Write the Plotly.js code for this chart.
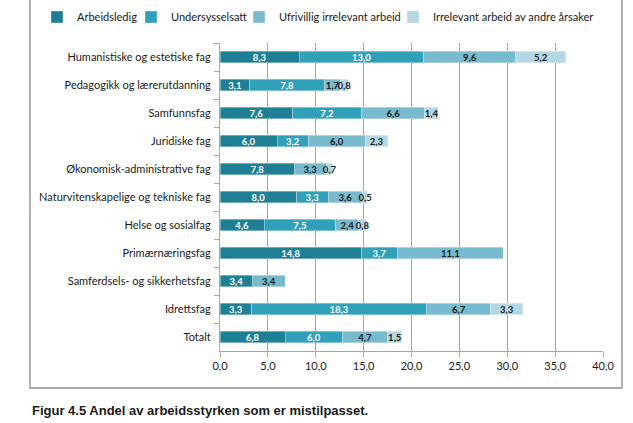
<!DOCTYPE html>
<html>
<head>
<meta charset="utf-8">
<script src="https://cdn.plot.ly/plotly-3.0.1.min.js"></script>
<style>html,body{margin:0;padding:0;background:#fff;}#chart{width:633px;height:423px;}</style>
</head>
<body>
<div id="chart"></div>
<script>
const categories = [
  "Humanistiske og estetiske fag",
  "Pedagogikk og lærerutdanning",
  "Samfunnsfag",
  "Juridiske fag",
  "Økonomisk-administrative fag",
  "Naturvitenskapelige og tekniske fag",
  "Helse og sosialfag",
  "Primærnæringsfag",
  "Samferdsels- og sikkerhetsfag",
  "Idrettsfag",
  "Totalt"
];
const arbeidsledig    = [8.3, 3.1, 7.6, 6.0, 7.8, 8.0, 4.6, 14.8, 3.4, 3.3, 6.8];
const undersysselsatt = [13.0, 7.8, 7.2, 3.2, null, 3.3, 7.5, 3.7, null, 18.3, 6.0];
const ufrivillig      = [9.6, 1.7, 6.6, 6.0, 3.3, 3.6, 2.4, 11.1, 3.4, 6.7, 4.7];
const irrelevant      = [5.2, 0.8, 1.4, 2.3, 0.7, 0.5, 0.8, null, null, 3.3, 1.5];
const seriesNames = ["Arbeidsledig", "Undersysselsatt", "Ufrivillig irrelevant arbeid", "Irrelevant arbeid av andre årsaker"];
const xTicks = [0, 5, 10, 15, 20, 25, 30, 35, 40];

const colors = ["#1f7f95", "#30a0bb", "#78bbce", "#b4d7e3"];
const textColors = ["#ffffff", "#ffffff", "#1a1a1a", "#1a1a1a"];
const legendWidths = [49, 63, 109, 170];
const allSeries = [arbeidsledig, undersysselsatt, ufrivillig, irrelevant];
const FONT = "Lato, 'Open Sans', sans-serif";

const traces = allSeries.map((vals, i) => ({
  type: "bar",
  orientation: "h",
  name: seriesNames[i],
  y: categories,
  x: vals,
  legendwidth: legendWidths[i],
  marker: {color: colors[i], line: {color: "rgba(255,255,255,0.6)", width: 0.6}},
  texttemplate: "%{x:.1f}",
  textposition: "inside",
  insidetextanchor: "middle",
  textangle: 0,
  constraintext: "none",
  textfont: {family: FONT, size: 9.5, color: textColors[i], weight: "bold"},
  hoverinfo: "skip",
  cliponaxis: false
}));

const L = 220, R = 603, T = 43, B = 351;
const W = R - L, H = B - T;
const px = v => (v - L) / W;
const py = v => (B - v) / H;

const layout = {
  width: 633, height: 423,
  margin: {l: L, r: 633 - R, t: T, b: 423 - B, pad: 0, autoexpand: false},
  paper_bgcolor: "#ffffff",
  plot_bgcolor: "#ffffff",
  barmode: "stack",
  bargap: 0.6,
  separators: ", ",
  font: {family: FONT, size: 11, color: "#1a1a1a"},
  showlegend: true,
  legend: {
    orientation: "h",
    x: px(37), xanchor: "left",
    y: py(17), yanchor: "middle",
    font: {family: FONT, size: 11, color: "#1a1a1a"},
    traceorder: "normal",
    itemwidth: 30,
    tracegroupgap: 0,
    bgcolor: "rgba(0,0,0,0)"
  },
  xaxis: {
    range: [0, 40],
    tickvals: xTicks,
    tickformat: ".1f",
    showgrid: true,
    gridcolor: "#a6a6a6",
    gridwidth: 1,
    zeroline: false,
    showline: true,
    linecolor: "#a6a6a6",
    linewidth: 1,
    ticks: "outside",
    ticklen: 5,
    tickcolor: "#a6a6a6",
    tickfont: {family: FONT, size: 11, color: "#1a1a1a"},
    fixedrange: true
  },
  yaxis: {
    type: "category",
    autorange: "reversed",
    showgrid: false,
    zeroline: false,
    showline: true,
    linecolor: "#a6a6a6",
    linewidth: 1,
    ticks: "outside",
    tickson: "boundaries",
    ticklen: 5,
    ticklabelstandoff: 6,
    tickcolor: "#a6a6a6",
    tickfont: {family: FONT, size: 11, color: "#1a1a1a"},
    fixedrange: true
  },
  shapes: [{
    type: "rect", xref: "paper", yref: "paper",
    x0: px(30), x1: px(622), y0: py(388), y1: py(-5),
    line: {color: "#8c8c8c", width: 1.3},
    fillcolor: "rgba(0,0,0,0)",
    layer: "below"
  }],
  annotations: [{
    text: "Figur 4.5 Andel av arbeidsstyrken som er mistilpasset.",
    xref: "paper", yref: "paper",
    x: px(30), xanchor: "left",
    y: py(410), yanchor: "middle",
    showarrow: false,
    font: {family: "'Liberation Sans Narrow', 'Liberation Sans', Arial, sans-serif", size: 13, color: "#1a1a1a", weight: "bold"}
  }]
};

Plotly.newPlot("chart", traces, layout, {displayModeBar: false, staticPlot: true});
</script>
</body>
</html>
